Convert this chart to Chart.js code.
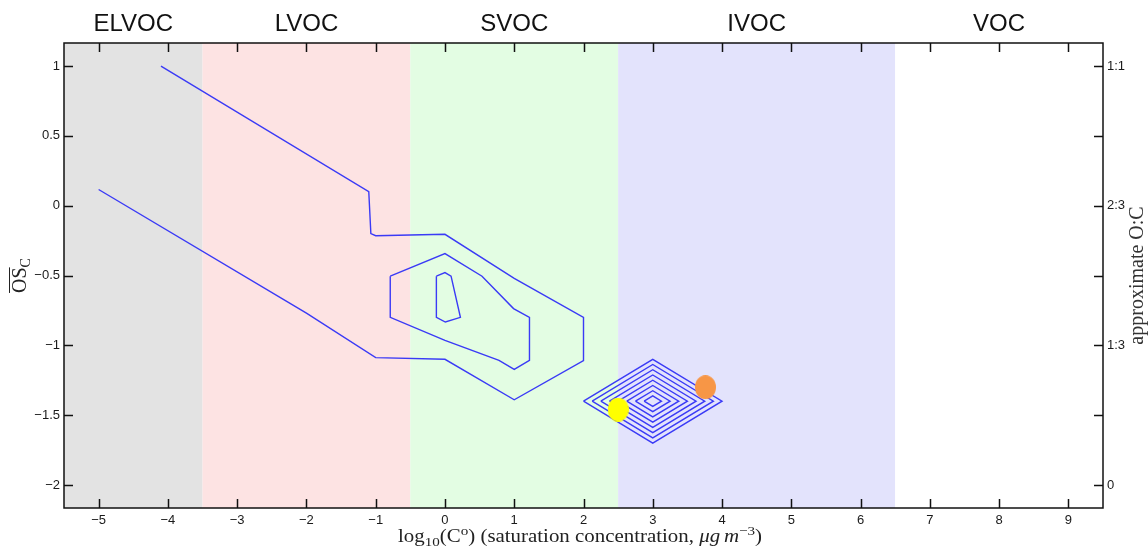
<!DOCTYPE html>
<html>
<head>
<meta charset="utf-8">
<script src="https://cdn.jsdelivr.net/npm/chart.js@4.4.1/dist/chart.umd.min.js"></script>
<style>
  html, body { margin: 0; padding: 0; background: #fff; }
  #wrap { width: 1148px; height: 550px; position: relative; }
</style>
</head>
<body>
<div id="wrap"><canvas id="chart"></canvas></div>
<script>
// volatility classes along log10(C*)
const classNames = ['ELVOC', 'LVOC', 'SVOC', 'IVOC', 'VOC'];
const classEdges = [-5.5, -3.5, -0.5, 2.5, 6.5, 9.5];

const xTicks = [-5, -4, -3, -2, -1, 0, 1, 2, 3, 4, 5, 6, 7, 8, 9];
const yTicks = [-2, -1.5, -1, -0.5, 0, 0.5, 1];
const ocTicks = [-2, -1.5, -1, -0.5, 0, 0.5, 1];
const ocLabels = ['0', '', '1:3', '', '2:3', '', '1:1'];

// outer contour, open on the left
const outerX = [-4.1, -1.1, -1.07, -1.0, 0, 1, 2, 2, 1, 0, -1, -2, -5];
const outerY = [1, 0.1, -0.2, -0.215, -0.205, -0.52, -0.8, -1.11, -1.39, -1.1, -1.088, -0.77, 0.116];

// middle contour
const midX = [-0.79, 0, 0.535, 0.99, 1.22, 1.22, 1.0, 0.78, 0, -0.79, -0.79];
const midY = [-0.505, -0.343, -0.505, -0.737, -0.8, -1.108, -1.172, -1.108, -0.964, -0.8, -0.505];

// inner contour
const innerX = [-0.124, 0, 0.088, 0.223, 0.006, -0.124, -0.124];
const innerY = [-0.505, -0.479, -0.505, -0.8, -0.833, -0.8, -0.505];

// nested diamonds around (3, -1.4)
const ringCX = 3;
const ringCY = -1.4;
const ringHalfW = [1, 0.875, 0.75, 0.625, 0.5, 0.375, 0.25, 0.125];
const ringHalfH = [0.3, 0.2625, 0.225, 0.1875, 0.15, 0.1125, 0.075, 0.0375];

// single compounds
const yellowPt = { x: 2.5, y: -1.46 };
const orangePt = { x: 3.76, y: -1.3 };

const classColors = ['#e3e3e3', '#fde3e3', '#e3fde3', '#e3e3fc', '#ffffff'];
const lineColor = '#3a3af6';
const sans = '"Liberation Sans", Arial, sans-serif';
const serif = '"Liberation Serif", "Times New Roman", serif';

function pts(xs, ys) {
  return xs.map((x, i) => ({ x: x, y: ys[i] }));
}

function ring(w, h) {
  return pts([ringCX - w, ringCX, ringCX + w, ringCX, ringCX - w],
             [ringCY, ringCY + h, ringCY, ringCY - h, ringCY]);
}

function ellipseImg(color, w, h) {
  const c = document.createElement('canvas');
  c.width = w; c.height = h;
  const g = c.getContext('2d');
  g.fillStyle = color;
  g.beginPath();
  g.ellipse(w / 2, h / 2, w / 2, h / 2, 0, 0, Math.PI * 2);
  g.fill();
  return c;
}

function lineSet(data) {
  return {
    data: data,
    showLine: true,
    borderColor: lineColor,
    borderWidth: 1.4,
    pointRadius: 0,
    tension: 0,
    fill: false,
    order: 2
  };
}

// draws text pieces side by side, centred on cx; optional stretch to a given width
function drawRuns(ctx, runs, cx, baseY, fitWidth) {
  let total = 0;
  runs.forEach(r => { ctx.font = r.font; r.w = ctx.measureText(r.text).width; total += r.w; });
  const sx = fitWidth ? fitWidth / total : 1;
  ctx.save();
  ctx.translate(cx - total * sx / 2, 0);
  ctx.scale(sx, 1);
  let px = 0;
  runs.forEach(r => {
    ctx.font = r.font;
    ctx.fillText(r.text, px, baseY + (r.dy || 0));
    r.x = cx - total * sx / 2 + px * sx;
    r.sw = r.w * sx;
    px += r.w;
  });
  ctx.restore();
  return runs;
}

const deco = {
  id: 'deco',
  beforeDatasetsDraw(chart) {
    const { ctx, chartArea: a, scales: { x } } = chart;
    ctx.save();
    for (let i = 0; i < classNames.length; i++) {
      const x0 = x.getPixelForValue(classEdges[i]);
      const x1 = x.getPixelForValue(classEdges[i + 1]);
      ctx.fillStyle = classColors[i];
      ctx.fillRect(x0, a.top, x1 - x0, a.bottom - a.top);
    }
    ctx.restore();
  },
  afterDatasetsDraw(chart) {
    const { ctx, chartArea: a, scales } = chart;
    const tl = 9;
    ctx.save();
    ctx.strokeStyle = '#111';
    ctx.lineWidth = 1.5;
    ctx.beginPath();
    scales.x.ticks.forEach(t => {
      const px = Math.round(scales.x.getPixelForValue(t.value)) + 0.5;
      ctx.moveTo(px, a.bottom); ctx.lineTo(px, a.bottom - tl);
      ctx.moveTo(px, a.top); ctx.lineTo(px, a.top + tl);
    });
    scales.y.ticks.forEach(t => {
      const py = Math.round(scales.y.getPixelForValue(t.value)) + 0.5;
      ctx.moveTo(a.left, py); ctx.lineTo(a.left + tl, py);
    });
    scales.oc.ticks.forEach(t => {
      const py = Math.round(scales.oc.getPixelForValue(t.value)) + 0.5;
      ctx.moveTo(a.right, py); ctx.lineTo(a.right - tl, py);
    });
    ctx.stroke();
    ctx.strokeRect(a.left, a.top, a.right - a.left, a.bottom - a.top);
    ctx.restore();
  },
  afterDraw(chart) {
    const { ctx, chartArea: a, scales: { x } } = chart;
    ctx.save();
    ctx.fillStyle = '#111';

    // class names above the plot
    ctx.font = '24px ' + sans;
    ctx.textAlign = 'center';
    ctx.textBaseline = 'middle';
    for (let i = 0; i < classNames.length; i++) {
      const cx = (x.getPixelForValue(classEdges[i]) + x.getPixelForValue(classEdges[i + 1])) / 2;
      ctx.fillText(classNames[i], cx, 24);
    }

    ctx.textAlign = 'left';
    ctx.textBaseline = 'alphabetic';
    const big = '18px ' + serif;
    const small = '13px ' + serif;
    const it = 'italic 18px ' + serif;

    // x title
    ctx.fillStyle = '#222';
    drawRuns(ctx, [
      { text: 'log', font: big },
      { text: '10', font: small, dy: 4 },
      { text: '(C', font: big },
      { text: 'o', font: small, dy: -7 },
      { text: ') (saturation concentration, ', font: big },
      { text: '\u03bcg', font: it },
      { text: ' ', font: small },
      { text: 'm', font: it },
      { text: '\u22123', font: small, dy: -7 },
      { text: ')', font: big }
    ], 580, 542, 364);

    // left title: overline OS, subscript C
    ctx.save();
    ctx.translate(17, (a.top + a.bottom) / 2);
    ctx.rotate(-Math.PI / 2);
    const r = drawRuns(ctx, [
      { text: 'OS', font: '20px ' + serif },
      { text: 'C', font: '14px ' + serif, dy: 4 }
    ], 0, 9);
    ctx.strokeStyle = '#222';
    ctx.lineWidth = 1;
    ctx.beginPath();
    ctx.moveTo(r[0].x, -7.5);
    ctx.lineTo(r[0].x + r[0].sw, -7.5);
    ctx.stroke();
    ctx.restore();

    // right title
    ctx.save();
    ctx.translate(1138, (a.top + a.bottom) / 2);
    ctx.rotate(-Math.PI / 2);
    ctx.fillStyle = '#333';
    drawRuns(ctx, [{ text: 'approximate O:C', font: '20px ' + serif }], 0, 5);
    ctx.restore();

    ctx.restore();
  }
};

const datasets = [
  {
    data: [yellowPt],
    pointStyle: ellipseImg('#ffff00', 21, 24),
    pointRadius: 10,
    order: 0
  },
  {
    data: [orangePt],
    pointStyle: ellipseImg('#f79646', 21, 24),
    pointRadius: 10,
    order: 0
  },
  lineSet(pts(outerX, outerY)),
  lineSet(pts(midX, midY)),
  lineSet(pts(innerX, innerY))
];
ringHalfW.forEach((w, i) => datasets.push(lineSet(ring(w, ringHalfH[i]))));

const tickFont = { family: sans, size: 13 };
const minus = v => String(v).replace('-', '\u2212');

new Chart(document.getElementById('chart'), {
  type: 'scatter',
  data: { datasets: datasets },
  plugins: [deco],
  options: {
    responsive: true,
    maintainAspectRatio: false,
    animation: false,
    layout: { padding: { top: 43, left: 0, right: 0, bottom: 0 } },
    plugins: {
      legend: { display: false },
      tooltip: { enabled: false }
    },
    scales: {
      x: {
        type: 'linear',
        position: 'bottom',
        min: -5.5,
        max: 9.5,
        afterBuildTicks: s => { s.ticks = xTicks.map(v => ({ value: v })); },
        afterFit: s => { s.height = 42; },
        grid: { display: false, drawTicks: false },
        border: { display: false },
        ticks: { font: tickFont, color: '#1a1a1a', padding: 5, maxRotation: 0, callback: minus }
      },
      y: {
        type: 'linear',
        position: 'left',
        min: -2.165,
        max: 1.165,
        afterBuildTicks: s => { s.ticks = yTicks.map(v => ({ value: v })); },
        afterFit: s => { s.width = 64; },
        grid: { display: false, drawTicks: false },
        border: { display: false },
        ticks: { font: tickFont, color: '#1a1a1a', padding: 4, callback: minus }
      },
      oc: {
        type: 'linear',
        position: 'right',
        min: -2.165,
        max: 1.165,
        afterBuildTicks: s => { s.ticks = ocTicks.map(v => ({ value: v })); },
        afterFit: s => { s.width = 45; },
        grid: { display: false, drawTicks: false },
        border: { display: false },
        ticks: {
          font: tickFont,
          color: '#1a1a1a',
          padding: 4,
          callback: v => ocLabels[ocTicks.indexOf(v)]
        }
      }
    }
  }
});
</script>
</body>
</html>
